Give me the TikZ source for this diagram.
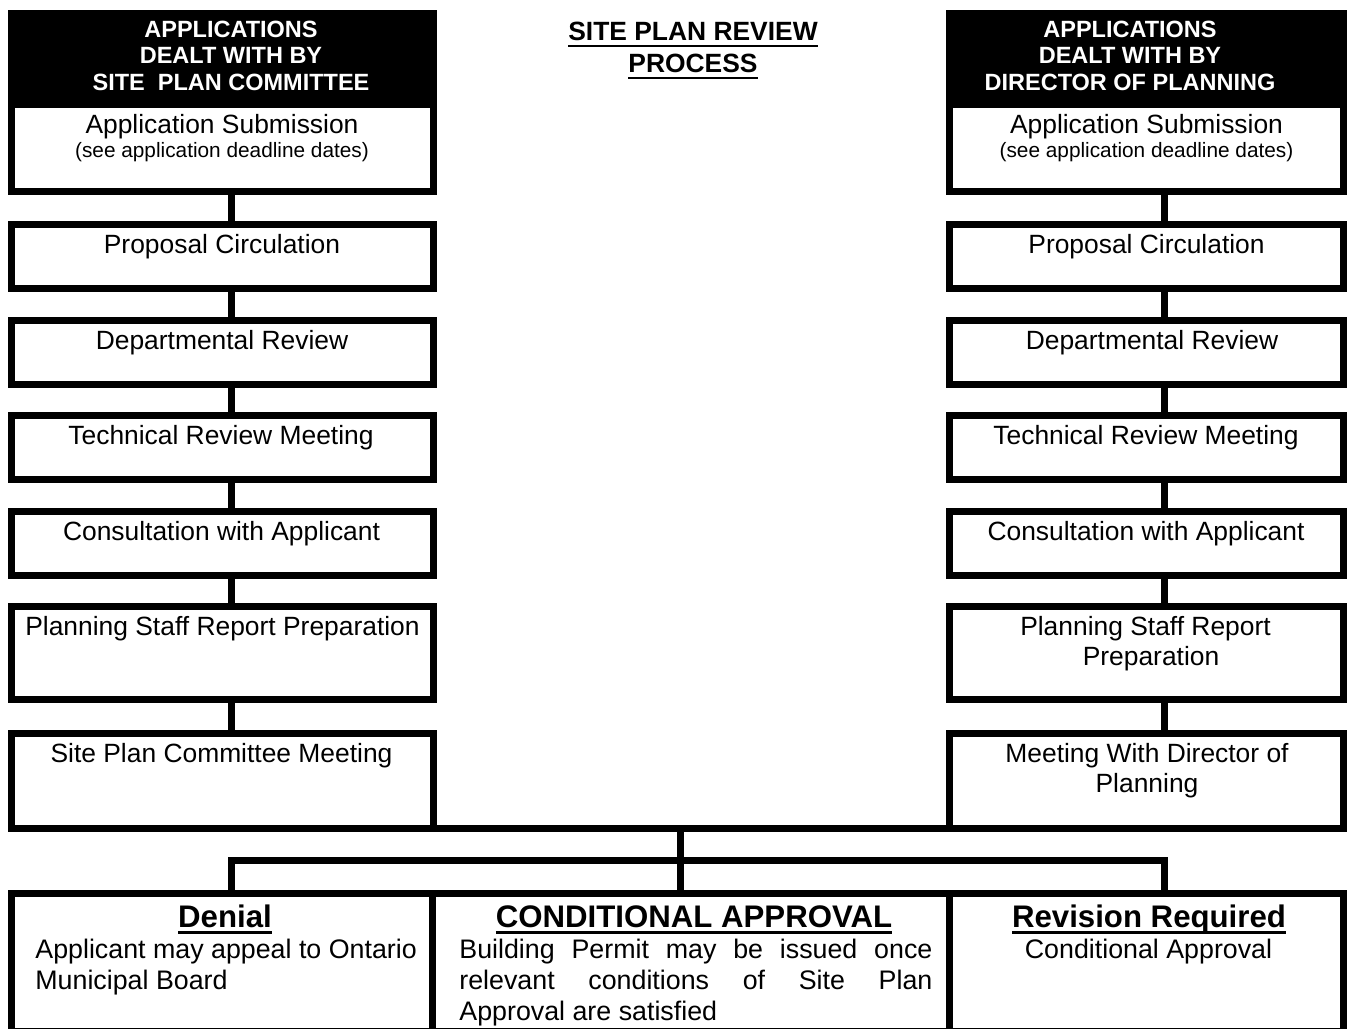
\documentclass[tikz,border=0pt]{standalone}
\usepackage{fontspec}
\setmainfont{Liberation Sans}
\newcommand\fsz[2]{\fontsize{#1}{#2}\selectfont}
\newcommand\titleul[1]{\leavevmode\setbox0\hbox{#1}\rlap{\vrule height -2.6pt depth 3.7pt width \wd0}\box0}
\newcommand\headul[1]{\leavevmode\setbox0\hbox{#1}\rlap{\vrule height -2.2pt depth 3.4pt width \wd0}\box0}
\begin{document}
\begin{tikzpicture}[x=0.5pt,y=-0.5pt,
  box/.style={draw=black, line width=3.5pt, rectangle, inner sep=0pt, outer sep=0pt, fill=white},
  hdr/.style={box, fill=black},
  colL/.style={minimum width=211pt},
  colR/.style={minimum width=197pt},
  stepH/.style={minimum height=32pt},
  wire/.style={draw=black, line width=3.5pt},
  txt/.style={anchor=base, inner sep=0pt, font=\fsz{13.2}{15}},
  smalltxt/.style={anchor=base, inner sep=0pt, font=\fsz{10.4}{12}},
  hdrtxt/.style={anchor=base, inner sep=0pt, text=white, font=\bfseries\fsz{11.75}{13.25}},
  titletxt/.style={anchor=base, inner sep=0pt, font=\bfseries\fsz{13.2}{16}},
  headtxt/.style={anchor=base, inner sep=0pt, font=\bfseries\fsz{15.6}{18}},
  bodytxt/.style={anchor=base west, inner sep=0pt, font=\fsz{13.4}{15.5}}
]
\useasboundingbox (0,0) rectangle (1348,1028);
\clip (0,0) rectangle (1348,1028);

% ---------- left column ----------
\node[box, colL, minimum height=89pt] (L1) at (222,102.5) {};
\node[hdr, colL, minimum height=45.5pt] (HL) at (222,59) {};
\node[box, colL, stepH] (L2) at (222,256.5) {};
\node[box, colL, stepH] (L3) at (222,352.5) {};
\node[box, colL, stepH] (L4) at (222,447.5) {};
\node[box, colL, stepH] (L5) at (222,543.5) {};
\node[box, colL, minimum height=46.5pt] (L6) at (222,653) {};
\node[box, colL, minimum height=47.25pt] (L7) at (222,780.75) {};

% ---------- right column ----------
\node[box, colR, minimum height=89pt] (R1) at (1146.5,102.5) {};
\node[hdr, colR, minimum height=45.5pt] (HR) at (1146.5,59) {};
\node[box, colR, stepH] (R2) at (1146.5,256.5) {};
\node[box, colR, stepH] (R3) at (1146.5,352.5) {};
\node[box, colR, stepH] (R4) at (1146.5,447.5) {};
\node[box, colR, stepH] (R5) at (1146.5,543.5) {};
\node[box, colR, minimum height=46.5pt] (R6) at (1146.5,653) {};
\node[box, colR, minimum height=47.25pt] (R7) at (1146.5,780.75) {};

% ---------- bottom outcome boxes ----------
\node[box, minimum width=210.75pt, minimum height=69pt] (BL) at (221.75,962) {};
\node[box, minimum width=258.5pt, minimum height=69pt] (BM) at (691,962) {};
\node[box, minimum width=197pt, minimum height=69pt] (BR) at (1146.5,962) {};

% ---------- connectors ----------
\coordinate (cl) at (231.5,0);
\coordinate (cr) at (1164,0);
\coordinate (cc) at (680.5,0);
\coordinate (bar) at (680.5,860.5);
\foreach \a/\b in {L1/L2,L2/L3,L3/L4,L4/L5,L5/L6,L6/L7}
  \draw[wire] (\a.south -| cl) -- (\b.north -| cl);
\foreach \a/\b in {R1/R2,R2/R3,R3/R4,R4/R5,R5/R6,R6/R7}
  \draw[wire] (\a.south -| cr) -- (\b.north -| cr);
\draw[wire] (L7.south east) -- (R7.south west);
\draw[wire] (L7.south -| cc) -- (BM.north -| cc);
\draw[wire] (BL.north -| cl) |- (bar) -| (BR.north -| cr);

% ---------- title ----------
\node[titletxt] (title) at (693,40) {\parbox[t]{300pt}{\centering \titleul{SITE PLAN REVIEW}\\ \titleul{PROCESS}}};

% ---------- header texts ----------
\node[hdrtxt] (hlt) at (231,37) {\parbox[t]{205pt}{\centering APPLICATIONS\\ DEALT WITH BY\\ SITE~~PLAN COMMITTEE}};
\node[hdrtxt] (hrt) at (1130,37) {\parbox[t]{195pt}{\centering APPLICATIONS\\ DEALT WITH BY\\ DIRECTOR OF PLANNING}};

% ---------- left step texts ----------
\node[txt] (tl1) at (222,133) {Application Submission};
\node[smalltxt] (sl1) at (222,157) {(see application deadline dates)};
\node[txt] (tl2) at (222,253) {Proposal Circulation};
\node[txt] (tl3) at (222,349) {Departmental Review};
\node[txt] (tl4) at (221,444) {Technical Review Meeting};
\node[txt] (tl5) at (221.5,540) {Consultation with Applicant};
\node[txt] (tl6) at (222.5,635) {Planning Staff Report Preparation};
\node[txt] (tl7) at (221.5,762) {Site Plan Committee Meeting};

% ---------- right step texts ----------
\node[txt] (tr1) at (1146.5,133) {Application Submission};
\node[smalltxt] (sr1) at (1146.5,157) {(see application deadline dates)};
\node[txt] (tr2) at (1146.5,253) {Proposal Circulation};
\node[txt] (tr3) at (1152,349) {Departmental Review};
\node[txt] (tr4) at (1146,444) {Technical Review Meeting};
\node[txt] (tr5) at (1146,540) {Consultation with Applicant};
\node[txt] (tr6a) at (1145.5,635) {Planning Staff Report};
\node[txt] (tr6b) at (1151,665) {Preparation};
\node[txt] (tr7) at (1147,762) {\parbox[t]{190pt}{\centering Meeting With Director of\\ Planning}};

% ---------- bottom texts ----------
\node[headtxt] (hd1) at (225,927) {\headul{Denial}};
\node[bodytxt] (bd1) at (35,958) {\parbox[t]{205pt}{\raggedright Applicant may appeal to Ontario\\ Municipal Board}};
\node[headtxt] (hd2) at (694,927) {\headul{CONDITIONAL APPROVAL}};
\node[bodytxt] (bd2) at (459,958) {\parbox[t]{236.5pt}{\makebox[236.5pt][s]{Building Permit may be issued once}\\ \makebox[236.5pt][s]{relevant conditions of Site Plan}\\ Approval are satisfied}};
\node[headtxt] (hd3) at (1149,927) {\headul{Revision Required}};
\node[txt, font=\fsz{13.4}{15.5}] (bd3) at (1148.5,958) {Conditional Approval};
\end{tikzpicture}
\end{document}
